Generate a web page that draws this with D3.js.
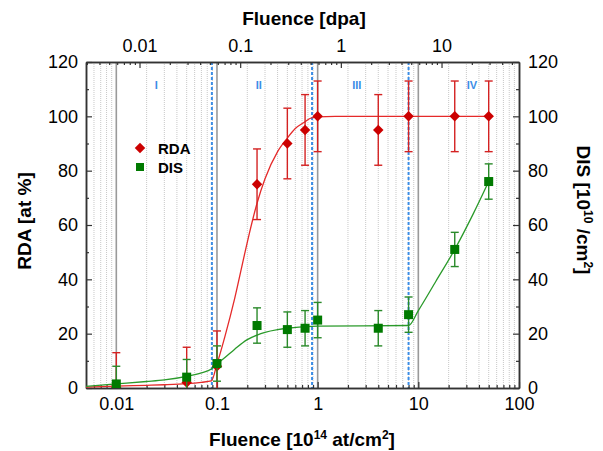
<!DOCTYPE html>
<html>
<head>
<meta charset="utf-8">
<script src="https://cdn.jsdelivr.net/npm/d3@7"></script>
<style>
body { margin: 0; background: #fff; }
svg { font-family: Arial, "Liberation Sans", sans-serif; }
</style>
</head>
<body>
<svg id="chart" width="603" height="451"></svg>
<script>
// measured points (fluence in 1e14 at/cm2)
var fluence = [0.01, 0.05, 0.1, 0.25, 0.5, 0.75, 1, 4, 8, 23, 50];
var rda = [0, 2, 8, 75, 90, 95, 100, 95, 100, 100, 100];
var rdaErr = [13, 13, 13, 13, 13, 13, 13, 13, 13, 13, 13];
var dis = [1.5, 4, 9, 23, 21.5, 22, 25, 22, 27, 51, 76];
var disErr = [6.5, 6.5, 6.5, 6.5, 6.5, 6.5, 6.5, 6.5, 6.5, 6.3, 6.5];

// fitted curves
var rdaFitX = [0.005, 0.01, 0.02, 0.03, 0.05, 0.07, 0.088, 0.1, 0.12, 0.15, 0.19, 0.21, 0.25, 0.3, 0.4, 0.5, 0.6, 0.75, 0.85, 1, 1.5, 50];
var rdaFitY = [0.3, 0.7, 1.0, 1.2, 1.6, 2.1, 2.6, 8.8, 19, 33, 50, 57, 68, 77, 87, 92, 95.5, 98, 99.3, 99.8, 100, 100];
var disFitX = [0.005, 0.01, 0.02, 0.03, 0.05, 0.07, 0.088, 0.1, 0.12, 0.15, 0.2, 0.25, 0.3, 0.4, 0.5, 0.75, 1, 8, 10, 15, 23, 35, 50];
var disFitY = [0.6, 1.5, 2.4, 3.0, 4.3, 5.6, 7, 8.8, 11.2, 14.3, 17.8, 19.5, 20.5, 21.5, 22, 22.6, 22.8, 23, 28.5, 39.4, 51, 64, 76];

// stage boundaries and labels
var boundaries = [0.089, 0.88, 8.0];
var stageLabels = ["I", "II", "III", "IV"];
var stageX = [0.025, 0.26, 2.45, 34];

var xTicks = [0.01, 0.1, 1, 10, 100];
var dpaTicks = [0.01, 0.1, 1, 10];
var yTicks = [0, 20, 40, 60, 80, 100, 120];
var yMinor = [10, 30, 50, 70, 90, 110];
var dpaFactor = 1.7; // fluence per dpa

var svg = d3.select("#chart");
var pL = 86, pR = 519, pT = 62, pB = 388;

var x = d3.scaleLog().domain([0.005, 100]).range([pL, pR]);
var xTop = d3.scaleLog().domain([0.005 / dpaFactor, 100 / dpaFactor]).range([pL, pR]);
var y = d3.scaleLinear().domain([0, 120]).range([pB, pT]);

// minor log ticks
function minors(scale) {
    var d = scale.domain(), out = [];
    for (var e = -4; e <= 2; e++) {
        for (var m = 2; m <= 9; m++) {
            var v = m * Math.pow(10, e);
            if (v > d[0] && v < d[1]) out.push(v);
        }
    }
    return out;
}
var xMinor = minors(x);
var dpaMinor = minors(xTop);

svg.append("defs").append("clipPath").attr("id", "clip")
    .append("rect").attr("x", pL).attr("y", pT).attr("width", pR - pL).attr("height", pB - pT);

// dotted grid
svg.append("g").selectAll("line").data(xMinor).enter().append("line")
    .attr("x1", function(d) { return x(d); }).attr("x2", function(d) { return x(d); })
    .attr("y1", pT).attr("y2", pB)
    .attr("stroke", "#c8c8c8").attr("stroke-width", 1).attr("stroke-dasharray", "1,1");

// solid grey decade lines
svg.append("g").selectAll("line").data(xTicks.slice(0, 4)).enter().append("line")
    .attr("x1", function(d) { return x(d); }).attr("x2", function(d) { return x(d); })
    .attr("y1", pT).attr("y2", pB)
    .attr("stroke", "#9a9a9a").attr("stroke-width", 1.6);

// blue dashed boundaries
svg.append("g").selectAll("line").data(boundaries).enter().append("line")
    .attr("x1", function(d) { return x(d); }).attr("x2", function(d) { return x(d); })
    .attr("y1", pT).attr("y2", pB)
    .attr("stroke", "#3b8de6").attr("stroke-width", 2).attr("stroke-dasharray", "3,2");

svg.append("g").selectAll("text").data(stageLabels).enter().append("text")
    .attr("x", function(d, i) { return x(stageX[i]); })
    .attr("y", 89)
    .attr("text-anchor", "middle")
    .attr("font-size", "11px").attr("font-weight", "bold")
    .attr("fill", "#3b8de6")
    .text(function(d) { return d; });

// axes
function styleAxis(g) {
    g.select(".domain").attr("stroke", "#333").attr("stroke-width", 1.5);
    g.selectAll(".tick line").attr("stroke", "#333").attr("stroke-width", 1.2);
    g.selectAll(".tick text").attr("fill", "#000").attr("font-size", "18px").attr("font-family", "Arial, 'Liberation Sans', sans-serif");
}

var fmt = function(d) { return d3.format("~g")(d); };

svg.append("g").attr("transform", "translate(0," + pB + ")")
    .call(d3.axisBottom(x).tickValues(xMinor).tickSize(-3).tickSizeOuter(0).tickFormat(""))
    .call(styleAxis);
svg.append("g").attr("transform", "translate(0," + pB + ")")
    .call(d3.axisBottom(x).tickValues(xTicks).tickSize(-6).tickSizeOuter(0).tickPadding(9).tickFormat(fmt))
    .call(styleAxis);

svg.append("g").attr("transform", "translate(0," + pT + ")")
    .call(d3.axisTop(xTop).tickValues(dpaMinor).tickSize(-3).tickSizeOuter(0).tickFormat(""))
    .call(styleAxis);
svg.append("g").attr("transform", "translate(0," + pT + ")")
    .call(d3.axisTop(xTop).tickValues(dpaTicks).tickSize(-6).tickSizeOuter(0).tickPadding(10).tickFormat(fmt))
    .call(styleAxis);

svg.append("g").attr("transform", "translate(" + pL + ",0)")
    .call(d3.axisLeft(y).tickValues(yMinor).tickSize(-3).tickSizeOuter(0).tickFormat(""))
    .call(styleAxis);
svg.append("g").attr("transform", "translate(" + pL + ",0)")
    .call(d3.axisLeft(y).tickValues(yTicks).tickSize(-6).tickSizeOuter(0).tickPadding(8))
    .call(styleAxis);

svg.append("g").attr("transform", "translate(" + pR + ",0)")
    .call(d3.axisRight(y).tickValues(yMinor).tickSize(-3).tickSizeOuter(0).tickFormat(""))
    .call(styleAxis);
svg.append("g").attr("transform", "translate(" + pR + ",0)")
    .call(d3.axisRight(y).tickValues(yTicks).tickSize(-6).tickSizeOuter(0).tickPadding(9))
    .call(styleAxis);

// fit curves
var plot = svg.append("g").attr("clip-path", "url(#clip)");
var line = d3.line()
    .x(function(d) { return x(d[0]); })
    .y(function(d) { return y(d[1]); })
    .curve(d3.curveMonotoneX);

plot.append("path").datum(d3.zip(rdaFitX, rdaFitY))
    .attr("d", line).attr("fill", "none").attr("stroke", "#e52a2a").attr("stroke-width", 1.3);
plot.append("path").datum(d3.zip(disFitX, disFitY))
    .attr("d", line).attr("fill", "none").attr("stroke", "#2a9a2a").attr("stroke-width", 1.3);

// error bars
function errorBars(vals, errs, color) {
    var g = plot.append("g").attr("stroke", color).attr("stroke-width", 1.4);
    fluence.forEach(function(f, i) {
        var cx = x(f), y0 = y(vals[i] - errs[i]), y1 = y(vals[i] + errs[i]);
        g.append("line").attr("x1", cx).attr("x2", cx).attr("y1", y0).attr("y2", y1);
        g.append("line").attr("x1", cx - 4).attr("x2", cx + 4).attr("y1", y0).attr("y2", y0);
        g.append("line").attr("x1", cx - 4).attr("x2", cx + 4).attr("y1", y1).attr("y2", y1);
    });
}
errorBars(rda, rdaErr, "#d42222");
plot.append("g").selectAll("path").data(rda).enter().append("path")
    .attr("d", d3.symbol().type(d3.symbolDiamond2).size(70))
    .attr("transform", function(d, i) { return "translate(" + x(fluence[i]) + "," + y(d) + ")"; })
    .attr("fill", "#cc0000");

errorBars(dis, disErr, "#2a8a2a");
plot.append("g").selectAll("rect").data(dis).enter().append("rect")
    .attr("x", function(d, i) { return x(fluence[i]) - 4.5; })
    .attr("y", function(d) { return y(d) - 4.5; })
    .attr("width", 9).attr("height", 9)
    .attr("fill", "#007a00");

// legend
var leg = svg.append("g");
leg.append("path").attr("d", d3.symbol().type(d3.symbolDiamond2).size(70))
    .attr("transform", "translate(140,148)").attr("fill", "#cc0000");
leg.append("rect").attr("x", 136).attr("y", 163).attr("width", 8).attr("height", 8).attr("fill", "#007a00");
leg.append("text").attr("x", 158).attr("y", 154).attr("font-size", "15px").attr("font-weight", "bold").text("RDA");
leg.append("text").attr("x", 158).attr("y", 173).attr("font-size", "15px").attr("font-weight", "bold").text("DIS");

// titles
svg.append("text").attr("x", 304).attr("y", 25).attr("text-anchor", "middle")
    .attr("font-size", "19px").attr("font-weight", "bold").text("Fluence [dpa]");

var bt = svg.append("text").attr("x", 302).attr("y", 446).attr("text-anchor", "middle")
    .attr("font-size", "19px").attr("font-weight", "bold");
bt.append("tspan").text("Fluence [10");
bt.append("tspan").attr("font-size", "12px").attr("dy", -7).text("14");
bt.append("tspan").attr("dy", 7).text(" at/cm");
bt.append("tspan").attr("font-size", "12px").attr("dy", -7).text("2");
bt.append("tspan").attr("dy", 7).text("]");

svg.append("text").attr("transform", "translate(31,221) rotate(-90)").attr("text-anchor", "middle")
    .attr("font-size", "19px").attr("font-weight", "bold").text("RDA [at %]");

var rt = svg.append("text").attr("transform", "translate(577,210) rotate(90)").attr("text-anchor", "middle")
    .attr("font-size", "19px").attr("font-weight", "bold");
rt.append("tspan").text("DIS [10");
rt.append("tspan").attr("font-size", "12px").attr("dy", -7).text("10");
rt.append("tspan").attr("dy", 7).text(" /cm");
rt.append("tspan").attr("font-size", "12px").attr("dy", -7).text("2");
rt.append("tspan").attr("dy", 7).text("]");
</script>
</body>
</html>
